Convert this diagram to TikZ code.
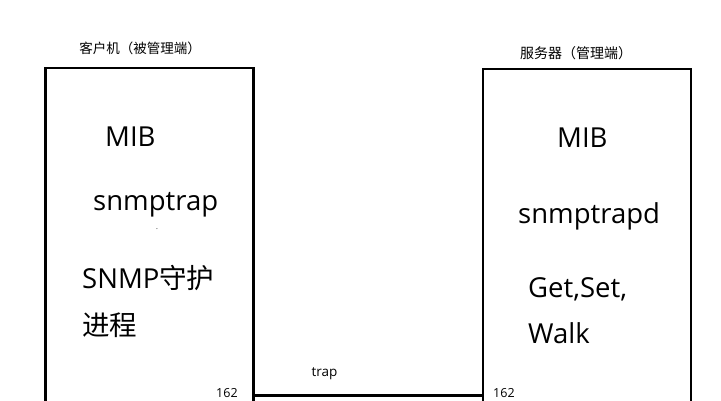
\documentclass[tikz,border=0pt]{standalone}
\usepackage{fontspec}
\setmainfont{Open Sans}
\newfontfamily\cjk{Noto Sans CJK SC}
\begin{document}
\begin{tikzpicture}[x=1pt,y=-1pt,
  hostbox/.style={draw=black,line width=2.6pt,rectangle,inner sep=0pt,outer sep=0pt,minimum width=208pt,minimum height=360pt,anchor=north west},
  bigtxt/.style={font=\fontsize{27.5}{32}\selectfont,inner sep=0pt,anchor=west},
  smalltxt/.style={font=\fontsize{13.5}{16}\selectfont,inner sep=0pt},
  link/.style={line width=2.6pt}]
\useasboundingbox (0,0) rectangle (721,400);
\clip (0,0) rectangle (721,400);
\fill[white] (0,0) rectangle (721,400);
% boxes
\node[hostbox] (client) at (45.5,68) {};
\node[hostbox] (server) at (483,69) {};
% titles
\node[smalltxt] (clientlbl) at (140,48) {\cjk 客户机（被管理端）};
\node[smalltxt,font=\fontsize{14}{16}\selectfont] (serverlbl) at (576,53) {\cjk 服务器（管理端）};
% client contents
\node[bigtxt] (cmib) at (105,137) {MIB};
\node[bigtxt] (ctrap) at (93,205) {snmptrap};
\node[inner sep=0pt,font=\fontsize{7}{8}\selectfont] (cdot) at (157,229) {.};
\node[bigtxt] (cdaemon) at (82,278) {SNMP{\cjk 守护}};
\node[bigtxt] (cproc) at (82,325) {\cjk 进程};
% server contents
\node[bigtxt] (smib) at (557,138) {MIB};
\node[bigtxt] (strapd) at (518,216) {snmptrapd};
\node[bigtxt] (sget) at (528,289) {Get,Set,};
\node[bigtxt] (swalk) at (528,333) {Walk};
% link
\coordinate (liney) at (0,395.5);
\draw[link] (client.east |- liney) -- (server.west |- liney);
\node[smalltxt] (traplbl) at (324.5,374) {trap};
\node[smalltxt,font=\fontsize{12.5}{14}\selectfont,anchor=west] (cport) at (216,393.5) {162};
\node[smalltxt,font=\fontsize{12.5}{14}\selectfont,anchor=west] (sport) at (493,393.5) {162};
\end{tikzpicture}
\end{document}
